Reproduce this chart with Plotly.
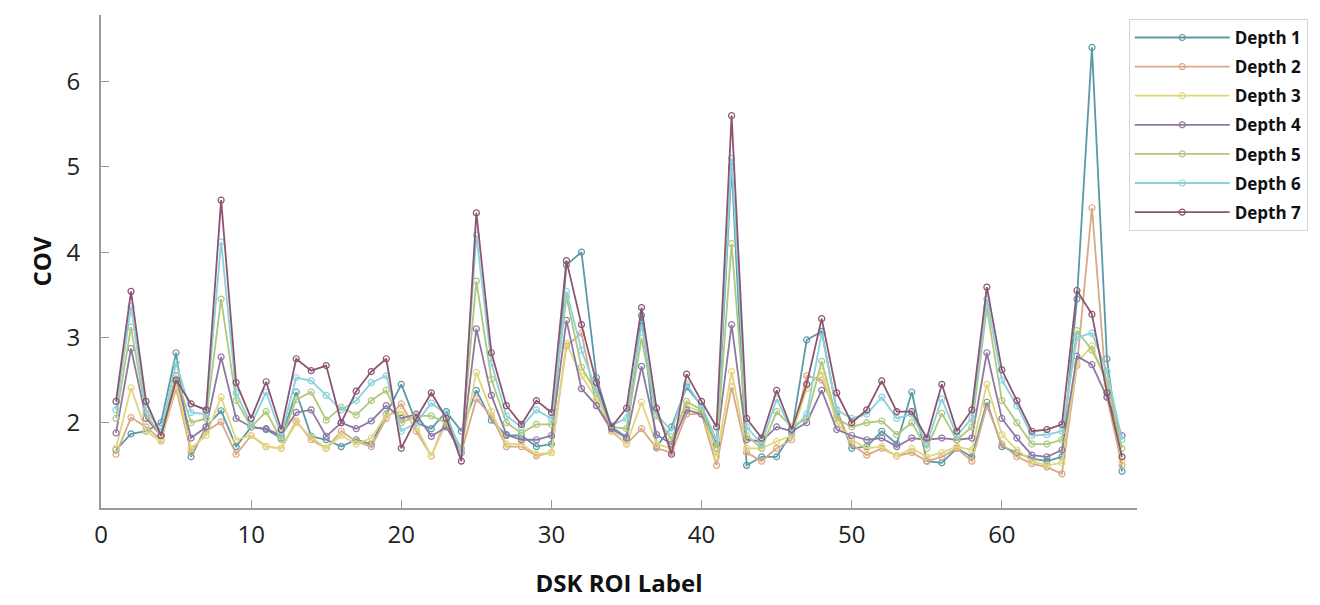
import plotly.graph_objects as go

roi = list(range(1, 69))

depth1 = [1.68, 1.87, 1.90, 2.00, 2.82, 1.60, 1.95, 2.14, 1.72, 1.95,
          1.92, 1.82, 2.36, 1.84, 1.80, 1.72, 1.80, 1.75, 2.10, 2.45,
          2.00, 1.93, 2.13, 1.90, 2.38, 2.03, 1.85, 1.85, 1.72, 1.75,
          3.85, 4.00, 2.53, 1.95, 1.83, 3.26, 1.72, 1.95, 2.42, 2.20,
          1.70, 5.00, 1.50, 1.60, 1.60, 1.88, 2.97, 3.07, 2.15, 1.70,
          1.72, 1.90, 1.75, 2.36, 1.55, 1.53, 1.70, 1.60, 2.24, 1.72,
          1.65, 1.58, 1.55, 1.60, 3.45, 6.40, 2.75, 1.43]
depth2 = [1.63, 2.06, 1.95, 1.80, 2.40, 1.65, 1.90, 2.01, 1.63, 1.85,
          1.72, 1.70, 2.02, 1.80, 1.70, 1.90, 1.78, 1.72, 2.05, 2.22,
          1.90, 1.61, 2.05, 1.65, 2.28, 2.08, 1.72, 1.72, 1.61, 1.65,
          2.90, 3.05, 2.20, 1.90, 1.75, 1.93, 1.70, 1.65, 2.10, 2.10,
          1.50, 2.42, 1.65, 1.55, 1.70, 1.80, 2.55, 2.50, 2.10, 1.75,
          1.62, 1.70, 1.61, 1.65, 1.55, 1.60, 1.70, 1.55, 2.20, 1.75,
          1.60, 1.52, 1.48, 1.40, 2.67, 4.52, 2.30, 1.50]
depth3 = [1.70, 2.41, 1.90, 1.78, 2.45, 1.70, 1.85, 2.30, 1.80, 1.85,
          1.72, 1.70, 2.00, 1.83, 1.70, 1.85, 1.75, 1.82, 2.09, 2.13,
          1.95, 1.61, 2.00, 1.70, 2.59, 2.13, 1.75, 1.75, 1.63, 1.65,
          2.93, 2.55, 2.28, 1.92, 1.75, 2.24, 1.75, 1.70, 2.20, 2.12,
          1.60, 2.60, 1.70, 1.70, 1.78, 1.85, 2.40, 2.60, 2.00, 1.80,
          1.70, 1.72, 1.61, 1.70, 1.60, 1.65, 1.72, 1.68, 2.45, 1.86,
          1.68, 1.55, 1.50, 1.53, 2.70, 2.90, 2.45, 1.55]
depth4 = [1.88, 2.87, 2.05, 1.85, 2.55, 1.82, 1.95, 2.77, 2.05, 1.95,
          1.93, 1.85, 2.12, 2.15, 1.84, 2.00, 1.93, 2.02, 2.20, 2.05,
          2.10, 1.84, 1.95, 1.65, 3.10, 2.32, 1.86, 1.80, 1.80, 1.85,
          3.20, 2.40, 2.20, 1.93, 1.82, 2.66, 1.86, 1.75, 2.15, 2.10,
          1.75, 3.15, 1.80, 1.78, 1.95, 1.90, 2.00, 2.38, 1.92, 1.85,
          1.80, 1.82, 1.72, 1.82, 1.80, 1.82, 1.80, 1.82, 2.82, 2.05,
          1.82, 1.62, 1.60, 1.68, 2.78, 2.68, 2.30, 1.85]
depth5 = [2.05, 3.12, 2.10, 1.85, 2.55, 2.00, 2.05, 3.45, 2.26, 1.95,
          2.13, 1.80, 2.27, 2.36, 2.03, 2.18, 2.09, 2.26, 2.38, 2.00,
          2.08, 2.08, 2.00, 1.70, 3.66, 2.51, 2.00, 1.88, 1.98, 1.98,
          3.48, 2.65, 2.35, 1.95, 1.93, 2.99, 2.08, 1.80, 2.25, 2.15,
          1.70, 4.10, 1.85, 1.70, 2.13, 1.95, 2.05, 2.72, 2.05, 1.95,
          2.00, 2.02, 1.86, 2.00, 1.70, 2.11, 1.80, 1.95, 3.35, 2.26,
          2.00, 1.75, 1.75, 1.80, 3.08, 2.85, 2.50, 1.70]
depth6 = [2.15, 3.36, 2.15, 1.90, 2.70, 2.12, 2.10, 4.12, 2.35, 1.98,
          2.36, 1.85, 2.53, 2.49, 2.32, 2.15, 2.26, 2.47, 2.55, 1.90,
          2.00, 2.23, 2.10, 1.65, 4.20, 2.70, 2.08, 1.95, 2.15, 2.05,
          3.54, 2.85, 2.38, 1.97, 2.05, 3.15, 2.10, 1.90, 2.45, 2.20,
          1.80, 5.10, 1.95, 1.75, 2.28, 1.90, 2.10, 3.05, 2.15, 2.05,
          2.10, 2.30, 2.05, 2.10, 1.75, 2.28, 1.85, 2.05, 3.45, 2.50,
          2.20, 1.85, 1.86, 1.90, 3.00, 3.05, 2.60, 1.80]
depth7 = [2.25, 3.54, 2.25, 1.85, 2.50, 2.22, 2.15, 4.61, 2.47, 2.05,
          2.48, 1.92, 2.75, 2.61, 2.67, 2.00, 2.37, 2.60, 2.75, 1.70,
          2.05, 2.35, 2.05, 1.55, 4.46, 2.82, 2.20, 1.98, 2.26, 2.12,
          3.90, 3.15, 2.47, 1.95, 2.17, 3.35, 2.17, 1.63, 2.57, 2.25,
          1.95, 5.60, 2.05, 1.82, 2.38, 1.92, 2.45, 3.22, 2.35, 2.00,
          2.15, 2.49, 2.13, 2.13, 1.82, 2.45, 1.90, 2.15, 3.59, 2.62,
          2.26, 1.90, 1.92, 1.98, 3.55, 3.27, 2.35, 1.60]

series = [depth1, depth2, depth3, depth4, depth5, depth6, depth7]
names = ["Depth 1", "Depth 2", "Depth 3", "Depth 4", "Depth 5", "Depth 6", "Depth 7"]
colors = ["#5a9aa6", "#d9a887", "#e2d67a", "#8f77a5", "#b0c87c", "#8ad2dd", "#8c5470"]

x_ticks = [0, 10, 20, 30, 40, 50, 60]
y_ticks = [2, 3, 4, 5, 6]

fig = go.Figure()
for i, (vals, name, col) in enumerate(zip(series, names, colors)):
    fig.add_trace(go.Scatter(
        x=roi, y=vals, name=name, mode="lines+markers",
        line=dict(color=col, width=1.8),
        marker=dict(symbol="circle-open", size=6, color=col, line=dict(width=1.2, color=col)),
        legendgroup=name,
    ))

axis_col = "#9a9a9a"
fig.update_layout(
    width=1320, height=605,
    margin=dict(l=101, r=182, t=15, b=87),
    paper_bgcolor="white", plot_bgcolor="white",
    font=dict(family="Open Sans", color="#222222"),
    showlegend=True,
    legend=dict(
        x=0.992, y=0.992, xanchor="left", yanchor="top",
        font=dict(family="Open Sans", size=17, color="#111111", weight="bold"),
        bgcolor="white", bordercolor="#d6d6d6", borderwidth=1,
        tracegroupgap=4, itemwidth=95,
    ),
    xaxis=dict(
        range=[0, 69], tickvals=x_ticks, ticks="inside", ticklen=8, tickcolor=axis_col,
        showline=True, linecolor=axis_col, linewidth=2, showgrid=False, zeroline=False,
        tickfont=dict(size=24, color="#222222"), ticklabelstandoff=4,
        title=dict(text="DSK ROI Label", font=dict(size=24, weight="bold", color="#111111"), standoff=26),
    ),
    yaxis=dict(
        range=[1, 6.78], tickvals=y_ticks, ticks="inside", ticklen=8, tickcolor=axis_col,
        showline=True, linecolor=axis_col, linewidth=2, showgrid=False, zeroline=False,
        tickfont=dict(size=24, color="#222222"), ticklabelstandoff=14,
        title=dict(text="COV", font=dict(size=24, weight="bold", color="#111111"), standoff=8),
    ),
)

fig.write_html("out.html")
